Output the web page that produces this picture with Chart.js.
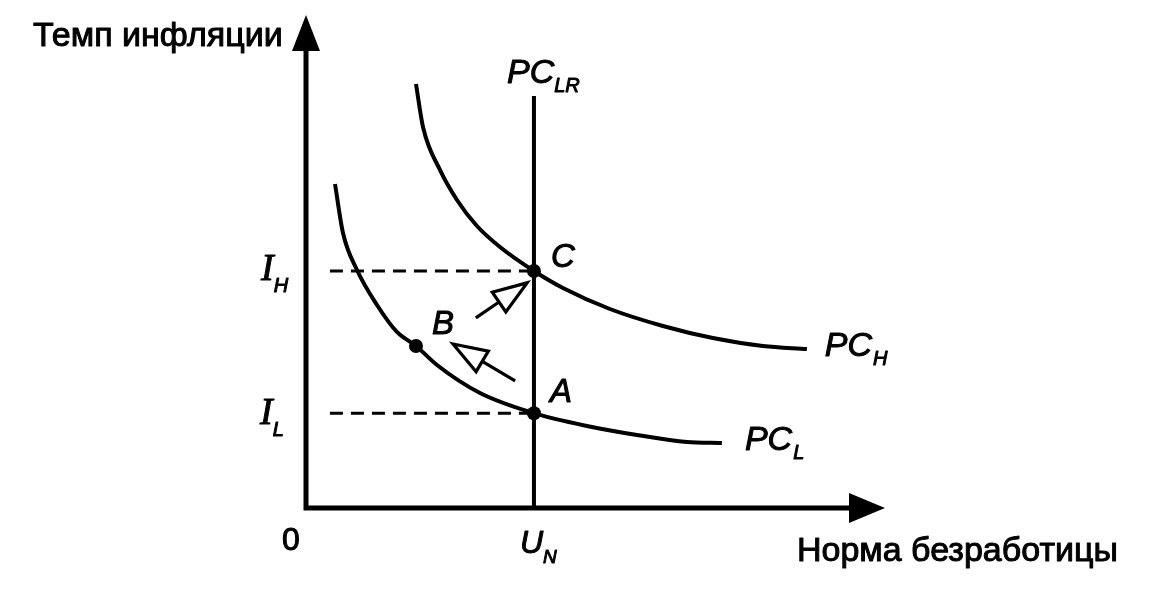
<!DOCTYPE html>
<html>
<head>
<meta charset="utf-8">
<script src="https://cdn.jsdelivr.net/npm/chart.js@4"></script>
<style>
  html, body { margin: 0; padding: 0; background: #fff; }
  #wrap { width: 1162px; height: 601px; position: relative; }
</style>
</head>
<body>
<div id="wrap"><canvas id="chart"></canvas></div>
<script>
// curve data in chart units (x = unemployment, y = inflation)
const pcHigh = [
  [1.93, 8.945], [2.053, 8.038], [2.351, 7.131], [2.649, 6.498], [3.0, 5.949],
  [3.404, 5.506], [4.0, 5.0], [4.509, 4.641], [5.333, 4.198], [6.263, 3.84],
  [7.14, 3.586], [8.018, 3.418], [8.789, 3.354]
];
const pcLow = [
  [0.509, 6.835], [0.649, 5.802], [0.895, 5.021], [1.246, 4.283], [1.596, 3.713],
  [1.93, 3.418], [2.298, 3.017], [3.053, 2.426], [4.0, 2.0], [4.93, 1.73],
  [5.807, 1.54], [6.684, 1.392], [7.298, 1.371]
];
const naturalRate = 4;
const pcLongTop = 8.69;
const inflHigh = 5;
const inflLow = 2;
const dashStart = 0.42;
const points = { A: [4, 2], B: [1.93, 3.418], C: [4, 5] };
const moveArrows = [
  [[2.98, 4.01], [3.88, 4.75]],
  [[3.67, 2.68], [2.58, 3.46]]
];
const xMax = 10.16;
const yMax = 10.4;

const toXY = (arr) => arr.map((p) => ({ x: p[0], y: p[1] }));

const sans = '"Liberation Sans", Arial, sans-serif';
const serif = '"Liberation Serif", "Times New Roman", serif';

// text labels: anchor in data units, offset in px
const labels = [
  { t: "Темп инфляции", x: 0, y: yMax, dx: -273, dy: 31, font: "34px " + sans },
  { t: "Норма безработицы", x: xMax, y: 0, dx: -88, dy: 53, font: "34px " + sans },
  { t: "0", x: 0, y: 0, dx: -24, dy: 42, font: "32px " + sans },
  { t: "U", sub: "N", x: naturalRate, y: 0, dx: -14, dy: 45, font: "italic 32px " + sans, subFont: "italic 19px " + sans, subDx: 0, subDy: 10 },
  { t: "PC", sub: "LR", x: naturalRate, y: pcLongTop, dx: -27, dy: -13, font: "italic 34px " + sans, subFont: "italic 20px " + sans, subDx: 0, subDy: 9 },
  { t: "PC", sub: "H", x: pcHigh[12][0], y: pcHigh[12][1], dx: 18, dy: 7, font: "italic 34px " + sans, subFont: "italic 20px " + sans, subDx: 1, subDy: 9 },
  { t: "PC", sub: "L", x: pcLow[12][0], y: pcLow[12][1], dx: 23, dy: 7, font: "italic 34px " + sans, subFont: "italic 20px " + sans, subDx: 1, subDy: 9 },
  { t: "I", sub: "H", x: 0, y: inflHigh, dx: -45, dy: 9, font: "italic 38px " + serif, subFont: "italic 20px " + sans, subDx: 0, subDy: 12 },
  { t: "I", sub: "L", x: 0, y: inflLow, dx: -46, dy: 11, font: "italic 38px " + serif, subFont: "italic 20px " + sans, subDx: 0, subDy: 12 },
  { t: "C", x: points.C[0], y: points.C[1], dx: 17, dy: -4, font: "italic 33px " + sans },
  { t: "B", x: points.B[0], y: points.B[1], dx: 16, dy: -12, font: "italic 33px " + sans },
  { t: "A", x: points.A[0], y: points.A[1], dx: 16, dy: -11, font: "italic 33px " + sans }
];

function arrowHead(ctx, x0, y0, x1, y1, len, half, fill) {
  const a = Math.atan2(y1 - y0, x1 - x0);
  const bx = x1 - len * Math.cos(a), by = y1 - len * Math.sin(a);
  const nx = -Math.sin(a) * half, ny = Math.cos(a) * half;
  ctx.beginPath();
  ctx.moveTo(x1, y1);
  ctx.lineTo(bx + nx, by + ny);
  ctx.lineTo(bx - nx, by - ny);
  ctx.closePath();
  if (fill) ctx.fill(); else ctx.stroke();
  return [bx, by];
}

// heavier text, like the scanned print
function boldText(ctx, t, x, y) {
  ctx.fillText(t, x, y);
  ctx.strokeText(t, x, y);
}

const decorPlugin = {
  id: "decor",
  afterDatasetsDraw(chart) {
    const ctx = chart.ctx;
    const xs = chart.scales.x, ys = chart.scales.y;
    const px = (v) => xs.getPixelForValue(v);
    const py = (v) => ys.getPixelForValue(v);
    ctx.save();
    ctx.strokeStyle = "#000";
    ctx.fillStyle = "#000";
    ctx.lineCap = "butt";

    // axes
    ctx.lineWidth = 5;
    ctx.beginPath();
    ctx.moveTo(px(0), py(yMax) + 30);
    ctx.lineTo(px(0), py(0));
    ctx.lineTo(px(xMax) - 30, py(0));
    ctx.stroke();
    arrowHead(ctx, px(0), py(0), px(0), py(yMax), 36, 14, true);
    arrowHead(ctx, px(0), py(0), px(xMax), py(0), 36, 15, true);

    // hollow movement arrows
    ctx.lineWidth = 3.2;
    ctx.lineJoin = "miter";
    moveArrows.forEach((a) => {
      const x0 = px(a[0][0]), y0 = py(a[0][1]);
      const x1 = px(a[1][0]), y1 = py(a[1][1]);
      const base = arrowHead(ctx, x0, y0, x1, y1, 34, 12, false);
      ctx.beginPath();
      ctx.moveTo(x0, y0);
      ctx.lineTo(base[0], base[1]);
      ctx.stroke();
    });

    // labels
    ctx.textBaseline = "alphabetic";
    ctx.textAlign = "left";
    ctx.lineWidth = 1;
    ctx.lineJoin = "round";
    labels.forEach((l) => {
      const x = px(l.x) + l.dx, y = py(l.y) + l.dy;
      ctx.font = l.font;
      boldText(ctx, l.t, x, y);
      if (l.sub) {
        const w = ctx.measureText(l.t).width;
        ctx.font = l.subFont;
        boldText(ctx, l.sub, x + w + l.subDx, y + l.subDy);
      }
    });
    ctx.restore();
  }
};

const curveStyle = {
  showLine: true,
  borderColor: "#000",
  borderWidth: 4,
  pointRadius: 0,
  cubicInterpolationMode: "monotone",
  clip: false
};
const dashStyle = {
  showLine: true,
  borderColor: "#000",
  borderWidth: 3,
  borderDash: [13, 8],
  pointRadius: 0,
  clip: false
};

new Chart(document.getElementById("chart"), {
  type: "scatter",
  data: {
    datasets: [
      { label: "PC_H", data: toXY(pcHigh), ...curveStyle },
      { label: "PC_L", data: toXY(pcLow), ...curveStyle },
      { label: "PC_LR", data: toXY([[naturalRate, 0], [naturalRate, pcLongTop]]), ...curveStyle },
      { label: "I_H", data: toXY([[dashStart, inflHigh], [naturalRate, inflHigh]]), ...dashStyle },
      { label: "I_L", data: toXY([[dashStart, inflLow], [naturalRate, inflLow]]), ...dashStyle },
      {
        label: "points",
        data: toXY(Object.values(points)),
        pointRadius: 7,
        pointBackgroundColor: "#000",
        pointBorderWidth: 0,
        showLine: false,
        clip: false
      }
    ]
  },
  options: {
    responsive: true,
    maintainAspectRatio: false,
    animation: false,
    events: [],
    layout: { padding: { left: 306, right: 277, top: 15, bottom: 93 } },
    plugins: { legend: { display: false }, tooltip: { enabled: false } },
    scales: {
      x: { type: "linear", min: 0, max: xMax, display: false },
      y: { type: "linear", min: 0, max: yMax, display: false }
    }
  },
  plugins: [decorPlugin]
});
</script>
</body>
</html>
